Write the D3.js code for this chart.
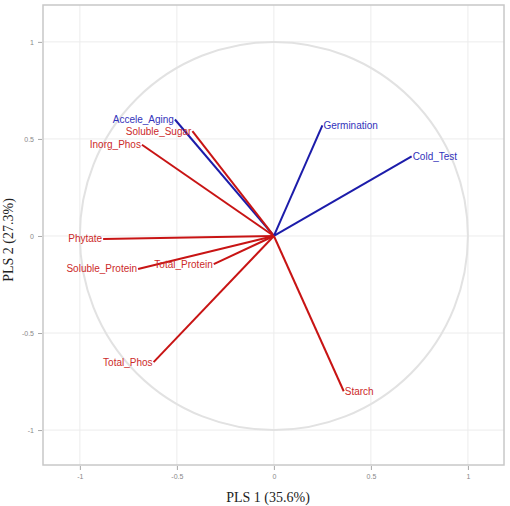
<!DOCTYPE html>
<html>
<head>
<meta charset="utf-8">
<script src="https://cdn.jsdelivr.net/npm/d3@7"></script>
<style>
  body { margin: 0; background: #fff; }
  svg { display: block; }
</style>
</head>
<body>
<svg id="chart" width="510" height="506"></svg>
<script>
// loadings on PLS 1 / PLS 2
const names = ["Accele_Aging", "Soluble_Sugar", "Inorg_Phos", "Germination", "Cold_Test",
               "Phytate", "Soluble_Protein", "Total_Protein", "Total_Phos", "Starch"];
const pls1 = [-0.51, -0.42, -0.68, 0.25, 0.71, -0.88, -0.70, -0.31, -0.62, 0.36];
const pls2 = [0.60, 0.54, 0.47, 0.57, 0.41, -0.015, -0.17, -0.145, -0.65, -0.80];
const groups = ["resp", "pred", "pred", "resp", "resp", "pred", "pred", "pred", "pred", "pred"];
const ticks = [-1, -0.5, 0, 0.5, 1];

const lineColor = {resp: "#1c1caa", pred: "#c81414"};
const textColor = {resp: "#3333bb", pred: "#cc2a2a"};

const svg = d3.select("#chart");
const panel = {left: 43, right: 504, top: 5, bottom: 465};

const x = d3.scaleLinear().domain([-1.19, 1.186]).range([panel.left, panel.right]);
const y = d3.scaleLinear().domain([-1.18, 1.19]).range([panel.bottom, panel.top]);

const g = svg.append("g");

// grid
g.selectAll(".gx").data(ticks).enter().append("line")
    .attr("x1", d => x(d)).attr("x2", d => x(d))
    .attr("y1", panel.top).attr("y2", panel.bottom)
    .attr("stroke", "#ececec").attr("stroke-width", 1);
g.selectAll(".gy").data(ticks).enter().append("line")
    .attr("y1", d => y(d)).attr("y2", d => y(d))
    .attr("x1", panel.left).attr("x2", panel.right)
    .attr("stroke", "#ececec").attr("stroke-width", 1);

// unit circle
g.append("ellipse")
    .attr("cx", x(0)).attr("cy", y(0))
    .attr("rx", x(1) - x(0)).attr("ry", y(0) - y(1))
    .attr("fill", "none").attr("stroke", "#e2e2e2").attr("stroke-width", 2);

// panel border
g.append("rect")
    .attr("x", panel.left).attr("y", panel.top)
    .attr("width", panel.right - panel.left).attr("height", panel.bottom - panel.top)
    .attr("fill", "none").attr("stroke", "#c8c8c8").attr("stroke-width", 1.5);

// axes
const xAxis = d3.axisBottom(x).tickValues(ticks).tickSize(4).tickPadding(4)
    .tickFormat(d => d === 0 ? "0" : String(d));
const yAxis = d3.axisLeft(y).tickValues(ticks).tickSize(4).tickPadding(4)
    .tickFormat(d => d === 0 ? "0" : String(d));

const gx = svg.append("g").attr("transform", `translate(0,${panel.bottom + 1})`).call(xAxis);
const gy = svg.append("g").attr("transform", `translate(${panel.left - 1},0)`).call(yAxis);
[gx, gy].forEach(a => {
    a.select(".domain").remove();
    a.selectAll(".tick line").attr("stroke", "#a8a8a8");
    a.selectAll(".tick text").attr("fill", "#888").attr("font-size", 7)
        .attr("font-family", "Liberation Sans, Arial, sans-serif");
});

// loading vectors
const data = names.map((n, i) => ({name: n, a: pls1[i], b: pls2[i], grp: groups[i]}));

g.selectAll(".vec").data(data).enter().append("line")
    .attr("x1", x(0)).attr("y1", y(0))
    .attr("x2", d => x(d.a)).attr("y2", d => y(d.b))
    .attr("stroke", d => lineColor[d.grp])
    .attr("stroke-width", 2);

g.selectAll(".lab").data(data).enter().append("text")
    .attr("x", d => x(d.a) + (d.a < 0 ? -1 : 1))
    .attr("y", d => y(d.b))
    .attr("dy", "0.35em")
    .attr("text-anchor", d => d.a < 0 ? "end" : "start")
    .attr("fill", d => textColor[d.grp])
    .attr("font-size", 10)
    .attr("font-family", "Liberation Sans, Arial, sans-serif")
    .text(d => d.name);

// axis titles
svg.append("text")
    .attr("x", 268).attr("y", 502)
    .attr("text-anchor", "middle")
    .attr("font-family", "Liberation Serif, Times New Roman, serif")
    .attr("font-size", 14)
    .attr("fill", "#222")
    .text("PLS 1 (35.6%)");

svg.append("text")
    .attr("transform", "translate(13,240) rotate(-90)")
    .attr("text-anchor", "middle")
    .attr("font-family", "Liberation Serif, Times New Roman, serif")
    .attr("font-size", 14)
    .attr("fill", "#222")
    .text("PLS 2 (27.3%)");
</script>
</body>
</html>
